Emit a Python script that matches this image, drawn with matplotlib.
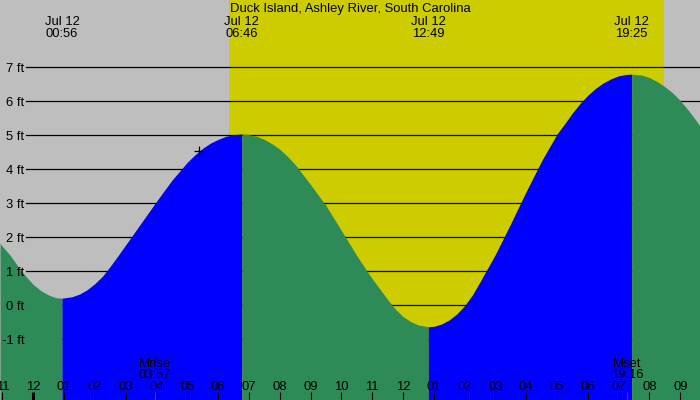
import matplotlib
matplotlib.use("Agg")
import matplotlib.pyplot as plt
import numpy as np

plt.rcParams['font.family'] = ['Liberation Sans', 'DejaVu Sans']

title = "Duck Island, Ashley River, South Carolina"

# tide heights (ft), hours since midnight Jul 12
tide_hours = [-1.08, -1.0, -0.75, -0.5, -0.25, 0.0, 0.25, 0.5, 0.75, 0.93, 1.25, 1.5,
              1.75, 2.0, 2.25, 2.5, 2.75, 3.0, 3.5, 4.0, 4.5, 5.0, 5.25, 5.5, 5.75,
              6.0, 6.25, 6.5, 6.77, 7.0, 7.25, 7.5, 7.75, 8.0, 8.25, 8.5, 9.0, 9.5,
              10.0, 10.5, 11.0, 11.5, 11.75, 12.0, 12.25, 12.5, 12.82, 13.0, 13.25,
              13.5, 13.75, 14.0, 14.25, 14.5, 15.0, 15.5, 16.0, 16.5, 17.0, 17.25,
              17.5, 17.75, 18.0, 18.25, 18.5, 18.75, 19.0, 19.25, 19.42, 19.75,
              20.0, 20.25, 20.5, 20.75, 21.0, 21.25, 21.5, 21.65]
tide_feet = [1.82, 1.73, 1.47, 1.15, 0.86, 0.61, 0.43, 0.30, 0.22, 0.21, 0.25, 0.33,
             0.46, 0.64, 0.86, 1.15, 1.46, 1.78, 2.42, 3.06, 3.68, 4.21, 4.43, 4.62, 4.77,
             4.88, 4.97, 5.02, 5.04, 5.02, 4.97, 4.88, 4.75, 4.59, 4.38, 4.14, 3.55, 2.93,
             2.20, 1.46, 0.78, 0.17, -0.11, -0.33, -0.48, -0.58, -0.63, -0.62, -0.55,
             -0.43, -0.25, -0.01, 0.30, 0.69, 1.50, 2.41, 3.35, 4.25, 5.04, 5.34,
             5.66, 5.94, 6.18, 6.38, 6.54, 6.66, 6.75, 6.79, 6.80, 6.77,
             6.70, 6.58, 6.43, 6.25, 6.02, 5.75, 5.45, 5.25]

# high / low tide labels along the top
extreme_hours = [0.93, 6.77, 12.82, 19.42]
extreme_labels = ["00:56", "06:46", "12:49", "19:25"]
date_label = "Jul 12"

sunrise = 6.35
sunset = 20.47

moon_hours = [3.95, 19.27]
moon_labels = ["Mrise\n03:57", "Mset\n19:16"]

now_hour = 5.38
now_feet = 4.54

ft_levels = [-1, 0, 1, 2, 3, 4, 5, 6, 7]
hour_ticks = list(range(-1, 22))

xmin, xmax = -1.081, 21.64
ymin, ymax = -2.785, 8.98

fig = plt.figure(figsize=(7, 4), dpi=100)
ax = fig.add_axes([0, 0, 1, 1])
ax.set_xlim(xmin, xmax)
ax.set_ylim(ymin, ymax)
ax.axis('off')
ax.add_patch(plt.Rectangle((0, 0), 1, 1, transform=ax.transAxes, color='#BEBEBE', zorder=-1))

ax.axvspan(sunrise, sunset, color='#CCCC00', lw=0, zorder=0)


def fy(px):
    # pixel row from top -> axes fraction
    return 1 - px / 400.0


# grid lines and labels
for v in ft_levels:
    ax.plot([-0.237, xmax], [v, v], color='black', lw=0.9, zorder=1)
    ax.text(-0.30, v - 0.136, f"{v} ft", ha='right', va='baseline', fontsize=9.4, zorder=4)

# tide fill, blue while rising, green while falling
h = np.array(tide_hours)
f = np.array(tide_feet)
d = np.sign(np.diff(f))
start = 0
for i in range(1, len(d) + 1):
    if i == len(d) or d[i] != d[start]:
        col = '#0000FF' if d[start] > 0 else '#2E8B57'
        ax.fill_between(h[start:i + 1], f[start:i + 1], ymin, color=col, lw=0, zorder=2)
        start = i

ax.plot(now_hour, now_feet, marker='+', color='black', ms=7, mew=0.9, zorder=3)

tr = ax.get_xaxis_transform()

ax.text(0.5, fy(12), title, ha='center', va='baseline', fontsize=9.4, transform=ax.transAxes)

for x, lab in zip(extreme_hours, extreme_labels):
    ax.text(x, fy(25), date_label, ha='center', va='baseline', fontsize=9.4, transform=tr, zorder=4)
    ax.text(x, fy(36.7), lab, ha='center', va='baseline', fontsize=9.4, transform=tr, zorder=4)

# hour ticks
for t in hour_ticks:
    lw = 2.2 if t == 0 else 0.8
    ax.plot([t, t], [0, 8 / 400.0], color='black', lw=lw, transform=tr, zorder=4,
            solid_capstyle='butt')
    lab = "%02d" % (((t - 1) % 12) + 1)
    ax.text(t, fy(390), lab, ha='center', va='baseline', fontsize=9.4, transform=tr, zorder=4)

for x, lab in zip(moon_hours, moon_labels):
    ax.plot([x, x], [0, 8 / 400.0], color='red', lw=0.8, transform=tr, zorder=4,
            solid_capstyle='butt')
    top, bottom = lab.split("\n")
    ax.text(x, fy(366.7), top, ha='center', va='baseline', fontsize=9.4, transform=tr, zorder=4)
    ax.text(x, fy(378.3), bottom, ha='center', va='baseline', fontsize=9.4, transform=tr, zorder=4)

fig.savefig("out.png", dpi=100)
